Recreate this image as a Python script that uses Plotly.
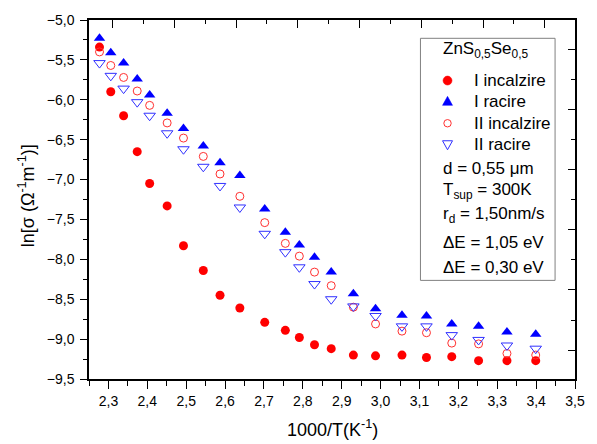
import plotly.graph_objects as go

# ---------------- data ----------------
inv_T = [2.277, 2.306, 2.339, 2.374, 2.406, 2.451, 2.493, 2.544, 2.587, 2.638,
         2.702, 2.755, 2.791, 2.830, 2.873, 2.930, 2.987, 3.055, 3.118, 3.183,
         3.252, 3.325, 3.399]
I_incalzire = [-5.34, -5.90, -6.20, -6.65, -7.05, -7.33, -7.83, -8.14, -8.45, -8.61,
               -8.79, -8.89, -8.98, -9.07, -9.12, -9.20, -9.21, -9.20, -9.23, -9.22,
               -9.27, -9.27, -9.27]
I_racire = [-5.23, -5.41, -5.54, -5.74, -5.94, -6.17, -6.36, -6.58, -6.79, -6.95,
            -7.37, -7.66, -7.82, -7.975, -8.16, -8.43, -8.62, -8.70, -8.71, -8.81,
            -8.84, -8.91, -8.94]
II_incalzire = [-5.40, -5.57, -5.72, -5.89, -6.07, -6.29, -6.48, -6.71, -6.93, -7.21,
                -7.54, -7.80, -7.96, -8.16, -8.33, -8.60, -8.81, -8.90, -8.92, -9.05,
                -9.06, -9.18, -9.20]
II_racire = [-5.54, -5.70, -5.86, -6.03, -6.20, -6.42, -6.62, -6.84, -7.08, -7.35,
             -7.68, -7.91, -8.10, -8.31, -8.50, -8.59, -8.71, -8.84, -8.84, -8.95,
             -9.01, -9.08, -9.12]
series_names = ["I incalzire", "I racire", "II incalzire", "II racire"]
info_lines = ["d = 0,55 \u03bcm", "T<sub>sup</sub> = 300K", "r<sub>d</sub> = 1,50nm/s",
              "\u0394E = 1,05 eV", "\u0394E = 0,30 eV"]
legend_title = "ZnS<sub>0,5</sub>Se<sub>0,5</sub>"

FONT = "Arial, Liberation Sans, sans-serif"
RED, BLUE = "#ff0000", "#0000ff"
RED_O, BLUE_O = "#ff3030", "#3030ff"

fig = go.Figure()
fig.add_trace(go.Scatter(x=inv_T, y=I_incalzire, mode="markers", name=series_names[0],
                         marker=dict(symbol="circle", size=9, color=RED)))
fig.add_trace(go.Scatter(x=inv_T, y=I_racire, mode="markers", name=series_names[1],
                         marker=dict(symbol="triangle-up", size=10, color=BLUE)))
fig.add_trace(go.Scatter(x=inv_T, y=II_incalzire, mode="markers", name=series_names[2],
                         marker=dict(symbol="circle-open", size=8, color=RED_O,
                                     line=dict(width=1))))
fig.add_trace(go.Scatter(x=inv_T, y=II_racire, mode="markers", name=series_names[3],
                         marker=dict(symbol="triangle-down-open", size=10, color=BLUE_O,
                                     line=dict(width=1))))
# empty helper traces so the mirror axes (top / right) are drawn
fig.add_trace(go.Scatter(x=[], y=[], xaxis="x2", yaxis="y", showlegend=False, hoverinfo="skip"))
fig.add_trace(go.Scatter(x=[], y=[], xaxis="x", yaxis="y2", showlegend=False, hoverinfo="skip"))

fig.update_layout(
    width=597, height=444,
    margin=dict(l=89, r=20, t=15, b=65),
    paper_bgcolor="white", plot_bgcolor="white",
    separators=", ",
    font=dict(family=FONT, size=14, color="#000000"),
    showlegend=False,
    xaxis=dict(range=[2.25, 3.5], tick0=2.3, dtick=0.1, tickformat=".1f",
               ticks="outside", ticklen=8, tickwidth=1.3, tickcolor="black",
               minor=dict(dtick=0.05, ticks="outside", ticklen=5, tickwidth=1.3, tickcolor="black"),
               showline=True, linecolor="black", linewidth=1.5, showgrid=False, zeroline=False,
               tickfont=dict(size=14, family=FONT)),
    yaxis=dict(range=[-9.5, -5.0], tick0=-5.0, dtick=0.5, tickformat=".1f",
               ticks="outside", ticklen=7, tickwidth=1.3, tickcolor="black",
               minor=dict(dtick=0.25, ticks="outside", ticklen=4, tickwidth=1.3, tickcolor="black"),
               showline=True, linecolor="black", linewidth=1.5, showgrid=False, zeroline=False,
               tickfont=dict(size=14, family=FONT), ticklabelstandoff=3),
    xaxis2=dict(overlaying="x", side="top", anchor="y", range=[-0.765, 14.98],
                tick0=0, dtick=2, ticks="inside", ticklen=8, tickwidth=1.3, tickcolor="black",
                minor=dict(dtick=1, ticks="inside", ticklen=4, tickwidth=1.3, tickcolor="black"),
                showticklabels=False, showline=True, linecolor="black", linewidth=1.5,
                showgrid=False, zeroline=False),
    yaxis2=dict(overlaying="y", side="right", anchor="x", range=[-10.96, 0.967],
                tick0=0, dtick=2, ticks="inside", ticklen=7, tickwidth=1.3, tickcolor="black",
                minor=dict(dtick=1, ticks="inside", ticklen=4, tickwidth=1.3, tickcolor="black"),
                showticklabels=False, showline=True, linecolor="black", linewidth=1.5,
                showgrid=False, zeroline=False),
)

# legend box
fig.add_shape(type="rect", xref="paper", yref="paper", x0=0.682, x1=0.959, y0=0.2747, y1=0.949,
              line=dict(color="#808080", width=1), fillcolor="white", layer="below")

# legend keys (pixel-sized symbols) + labels
key_x, text_x = 0.7377, 0.789
key_y = [0.8313, 0.772, 0.7124, 0.6525]
sym = dict(xref="paper", yref="paper", xsizemode="pixel", ysizemode="pixel")
fig.add_shape(type="circle", xanchor=key_x, yanchor=key_y[0], x0=-4.5, x1=4.5, y0=-4.5, y1=4.5,
              fillcolor=RED, line=dict(color=RED, width=0.5), **sym)
fig.add_shape(type="path", xanchor=key_x, yanchor=key_y[1], path="M -5,-3.5 L 5,-3.5 L 0,5.5 Z",
              fillcolor=BLUE, line=dict(color=BLUE, width=0.5), **sym)
fig.add_shape(type="circle", xanchor=key_x, yanchor=key_y[2], x0=-3.7, x1=3.7, y0=-3.7, y1=3.7,
              fillcolor="rgba(0,0,0,0)", line=dict(color=RED_O, width=1), **sym)
fig.add_shape(type="path", xanchor=key_x, yanchor=key_y[3], path="M -5,4 L 5,4 L 0,-5 Z",
              fillcolor="rgba(0,0,0,0)", line=dict(color=BLUE_O, width=1), **sym)
for name, yy in zip(series_names, key_y):
    fig.add_annotation(xref="paper", yref="paper", x=text_x, y=yy, xanchor="left", yanchor="middle",
                       text=name, showarrow=False, font=dict(size=17, family=FONT))

# legend title and info lines
fig.add_annotation(xref="paper", yref="paper", x=0.725, y=0.917, xanchor="left", yanchor="middle",
                   text=legend_title, showarrow=False, font=dict(size=17, family=FONT))
info_y = [0.587, 0.523, 0.457, 0.380, 0.3113]
for txt, yy in zip(info_lines, info_y):
    fig.add_annotation(xref="paper", yref="paper", x=0.725, y=yy, xanchor="left", yanchor="middle",
                       text=txt, showarrow=False, font=dict(size=17, family=FONT))

# axis titles
fig.add_annotation(xref="paper", yref="paper", x=0.5, y=-0.139, xanchor="center", yanchor="middle",
                   text="1000/T(K<sup>-1</sup>)", showarrow=False, font=dict(size=18, family=FONT))
fig.add_annotation(xref="paper", yref="paper", x=-0.127, y=0.51, xanchor="center", yanchor="middle",
                   textangle=-90, text="ln[\u03c3 (\u03a9<sup>-1</sup>m<sup>-1</sup>)]",
                   showarrow=False, font=dict(size=18, family=FONT))

fig.write_html("out.html", config={"displayModeBar": False},
               post_script="document.body.style.margin='0';")
